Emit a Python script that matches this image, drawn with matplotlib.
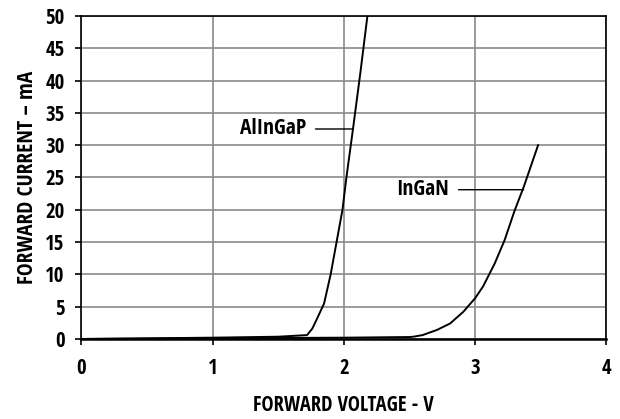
import matplotlib.pyplot as plt

# forward voltage (V) / forward current (mA)
alingap_v = [0.0, 0.5, 1.0, 1.5, 1.72, 1.76, 1.80, 1.85, 1.90, 1.945, 1.99, 2.02, 2.07, 2.125, 2.18]
alingap_i = [0.0, 0.1, 0.2, 0.35, 0.6, 1.6, 3.3, 5.5, 10.0, 15.0, 20.0, 25.0, 32.5, 41.0, 50.0]

ingan_v = [0.0, 1.0, 2.0, 2.5, 2.53, 2.60, 2.71, 2.81, 2.91, 3.0, 3.06, 3.15, 3.225, 3.30, 3.37, 3.48]
ingan_i = [0.0, 0.1, 0.2, 0.3, 0.35, 0.6, 1.4, 2.4, 4.2, 6.3, 8.1, 11.7, 15.3, 19.8, 23.5, 30.0]

x_ticks = [0, 1, 2, 3, 4]
y_ticks = [0, 5, 10, 15, 20, 25, 30, 35, 40, 45, 50]

plt.rcParams["font.family"] = ["Open Sans Condensed", "DejaVu Sans"]
plt.rcParams["font.weight"] = "bold"
plt.rcParams["font.stretch"] = "condensed"

fig = plt.figure(figsize=(6.2, 4.19), dpi=100)
ax = fig.add_axes([0.131, 0.191, 0.847, 0.771])

ax.plot(alingap_v, alingap_i, color="black", lw=1.4)
ax.plot(ingan_v, ingan_i, color="black", lw=1.4)

ax.set_xlim(0, 4)
ax.set_ylim(0, 50)
ax.set_xticks(x_ticks)
ax.set_yticks(y_ticks)
ax.grid(True, color="#8a8a8a", lw=1.2)
ax.set_axisbelow(True)

for s in ax.spines.values():
    s.set_color("black")
    s.set_linewidth(1.2)
ax.spines["bottom"].set_linewidth(1.8)

ax.tick_params(axis="x", length=4, width=1.2, pad=10, labelsize=15)
ax.tick_params(axis="y", length=4, width=1.2, pad=8, labelsize=15)
for lab in ax.get_xticklabels() + ax.get_yticklabels():
    lab.set_fontweight("bold")

ax.set_xlabel("FORWARD VOLTAGE - V", fontsize=14.8, fontweight="bold", labelpad=11)
ax.set_ylabel("FORWARD CURRENT – mA", fontsize=15.5, fontweight="bold", labelpad=5)

# curve labels with leader lines
ax.annotate("AlInGaP", xy=(2.07, 32.5), xytext=(1.71, 32.5),
            ha="right", va="center", fontsize=15.5, fontweight="bold",
            arrowprops=dict(arrowstyle="-", color="black", lw=1.0, shrinkA=5, shrinkB=0))
ax.annotate("InGaN", xy=(3.37, 23.1), xytext=(2.80, 23.1),
            ha="right", va="center", fontsize=15.5, fontweight="bold",
            arrowprops=dict(arrowstyle="-", color="black", lw=1.0, shrinkA=5, shrinkB=0))

fig.savefig("out.png", dpi=100)
